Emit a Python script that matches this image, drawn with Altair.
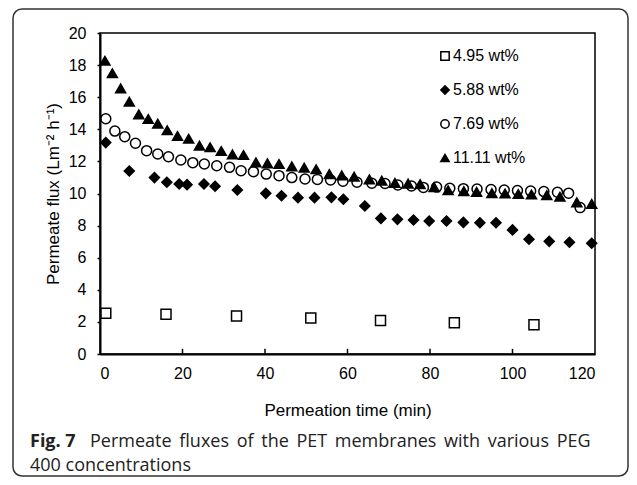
import altair as alt
import pandas as pd

# ---- data ----
series_names = ["4.95 wt%", "5.88 wt%", "7.69 wt%", "11.11 wt%"]

t_495 = [1.4, 16.0, 33.1, 51.1, 68.0, 85.9, 105.2]
v_495 = [2.54, 2.47, 2.37, 2.24, 2.08, 1.95, 1.83]

t_588 = [1.4, 7.1, 13.2, 16.2, 19.2, 21.1, 25.2, 27.9, 33.3, 40.2, 44.0, 48.0, 52.0,
         56.1, 59.0, 64.2, 68.1, 72.1, 76.0, 79.8, 84.0, 88.1, 92.1, 96.0, 100.0,
         104.0, 108.9, 113.8, 119.2]
v_588 = [13.17, 11.40, 10.99, 10.70, 10.59, 10.55, 10.59, 10.45, 10.22, 10.01, 9.86,
         9.74, 9.74, 9.76, 9.64, 9.22, 8.45, 8.39, 8.35, 8.29, 8.29, 8.20, 8.18, 8.18,
         7.73, 7.15, 7.02, 6.96, 6.90]

t_769 = [1.4, 3.6, 6.0, 8.6, 11.3, 14.0, 16.6, 19.6, 22.5, 25.3, 28.3, 31.4, 34.2,
         37.2, 40.3, 43.4, 46.5, 49.7, 52.7, 55.9, 58.9, 62.3, 65.9, 69.1, 72.2, 75.5,
         78.4, 81.6, 84.8, 88.1, 91.4, 94.8, 98.0, 101.2, 104.4, 107.6, 110.9, 113.6,
         116.4]
v_769 = [14.66, 13.89, 13.54, 13.13, 12.67, 12.46, 12.29, 12.09, 11.92, 11.84, 11.73,
         11.63, 11.42, 11.36, 11.21, 11.11, 10.99, 10.90, 10.88, 10.84, 10.76, 10.70,
         10.64, 10.62, 10.53, 10.47, 10.38, 10.40, 10.32, 10.30, 10.28, 10.25, 10.22,
         10.18, 10.15, 10.12, 10.08, 10.02, 9.12]

t_1111 = [1.2, 3.0, 5.0, 7.1, 9.4, 11.7, 14.0, 16.3, 18.8, 21.5, 24.1, 26.7, 29.4,
          32.1, 34.8, 37.8, 40.6, 43.4, 46.5, 49.5, 52.4, 55.6, 58.6, 61.6, 65.3,
          68.3, 71.5, 74.7, 77.6, 81.0, 84.4, 88.2, 91.3, 95.0, 98.2, 101.4, 104.6,
          108.3, 111.5, 115.6, 119.2]
v_1111 = [18.27, 17.49, 16.55, 15.72, 14.93, 14.64, 14.35, 13.94, 13.58, 13.41, 12.98,
          12.88, 12.65, 12.44, 12.40, 11.94, 11.88, 11.84, 11.69, 11.61, 11.51, 11.21,
          11.13, 11.05, 10.88, 10.80, 10.66, 10.62, 10.58, 10.40, 10.20, 10.15, 10.10,
          10.02, 10.00, 9.97, 9.94, 9.90, 9.80, 9.45, 9.35]

x_ticks = [0, 20, 40, 60, 80, 100, 120]
y_ticks = [0, 2, 4, 6, 8, 10, 12, 14, 16, 18, 20]
inner_x_ticks = [20, 40, 60, 80, 100]

caption_bold = "Fig. 7"
caption_line1 = "Permeate fluxes of the PET membranes with various PEG"
caption_line2 = "400 concentrations"
# justified first line: widen the word gaps slightly (thin space + space)
caption_line1_just = "\u2009 ".join(caption_line1.split(" "))

rows = []
for i, (name, ts, vs) in enumerate(zip(series_names, [t_495, t_588, t_769, t_1111],
                                       [v_495, v_588, v_769, v_1111])):
    for t, v in zip(ts, vs):
        rows.append({"series": name, "t": t, "v": v, "order": i})
df = pd.DataFrame(rows)

FONT = "Liberation Sans"

xscale = alt.Scale(domain=[0, 120], nice=False, zero=False)
yscale = alt.Scale(domain=[0, 20], nice=False, zero=False)

x_axis = alt.Axis(values=x_ticks, title="Permeation time (min)", grid=False,
                  ticks=False, tickSize=0, labelPadding=11, titlePadding=21,
                  labelOverlap=False)
y_axis = alt.Axis(values=y_ticks, title="Permeate flux (Lm\u207b\u00b2 h\u207b\u00b9)",
                  grid=False, tickSize=3, labelPadding=11, titlePadding=6,
                  labelOverlap=False)

legend = alt.Legend(title=None, orient="none", legendX=337, legendY=15,
                    symbolSize=70, symbolStrokeWidth=1.5, labelFontSize=16,
                    labelFont=FONT, labelColor="black",
                    rowPadding=18, labelOffset=0)

points = alt.Chart(df).mark_point(
    filled=True, strokeWidth=1.5, opacity=1, size=100
).encode(
    x=alt.X("t:Q", scale=xscale, axis=x_axis),
    y=alt.Y("v:Q", scale=yscale, axis=y_axis),
    shape=alt.Shape("series:N",
                    scale=alt.Scale(domain=series_names,
                                    range=["square", "diamond", "circle", "triangle-up"]),
                    legend=legend),
    fill=alt.Fill("series:N",
                  scale=alt.Scale(domain=series_names,
                                  range=["transparent", "black", "transparent", "black"]),
                  legend=legend),
    stroke=alt.Stroke("series:N",
                      scale=alt.Scale(domain=series_names,
                                      range=["black", "black", "black", "black"]),
                      legend=legend),
    order=alt.Order("order:Q"),
)

ticks_df = pd.DataFrame({"t": inner_x_ticks, "y0": [0] * len(inner_x_ticks),
                         "y1": [0.32] * len(inner_x_ticks)})
inner_ticks = alt.Chart(ticks_df).mark_rule(color="black", strokeWidth=1.5).encode(
    x=alt.X("t:Q", scale=xscale, axis=x_axis),
    y=alt.Y("y0:Q", scale=yscale, axis=y_axis),
    y2="y1:Q",
)

frame = alt.Chart(pd.DataFrame({"a": [0]})).mark_rect(
    fill="transparent", stroke="#333333", strokeWidth=1.5, cornerRadius=9
).encode(
    x=alt.value(-87), x2=alt.value(528), y=alt.value(-24), y2=alt.value(443)
)

cap_df = pd.DataFrame({"b": [caption_bold], "l1": [caption_line1_just],
                       "l2": [caption_line2]})
cap_bold = alt.Chart(cap_df).mark_text(
    font="Open Sans", fontSize=18, fontWeight="bold", align="left", baseline="alphabetic",
    color="#222222"
).encode(text="b:N", x=alt.value(-70), y=alt.value(414))
cap_l1 = alt.Chart(cap_df).mark_text(
    font="Open Sans", fontSize=18, align="left", baseline="alphabetic", color="#222222"
).encode(text="l1:N", x=alt.value(-10), y=alt.value(414))
cap_l2 = alt.Chart(cap_df).mark_text(
    font="Open Sans", fontSize=18, align="left", baseline="alphabetic", color="#222222"
).encode(text="l2:N", x=alt.value(-70), y=alt.value(438))

chart = alt.layer(points, inner_ticks, frame, cap_bold, cap_l1, cap_l2).properties(
    width=495, height=321,
    autosize=alt.AutoSizeParams(type="none"),
    padding={"left": 92, "top": 25, "right": 34, "bottom": 123},
    background="white",
).configure_view(
    stroke="black", strokeWidth=1.5
).configure_axis(
    domainColor="black", domainWidth=2, tickColor="black", tickWidth=1.5,
    labelFont=FONT, labelFontSize=16, labelColor="black",
    titleFont=FONT, titleFontSize=17, titleFontWeight="normal", titleColor="black",
)

chart.save("out.html", embed_options={"renderer": "svg", "actions": False})
